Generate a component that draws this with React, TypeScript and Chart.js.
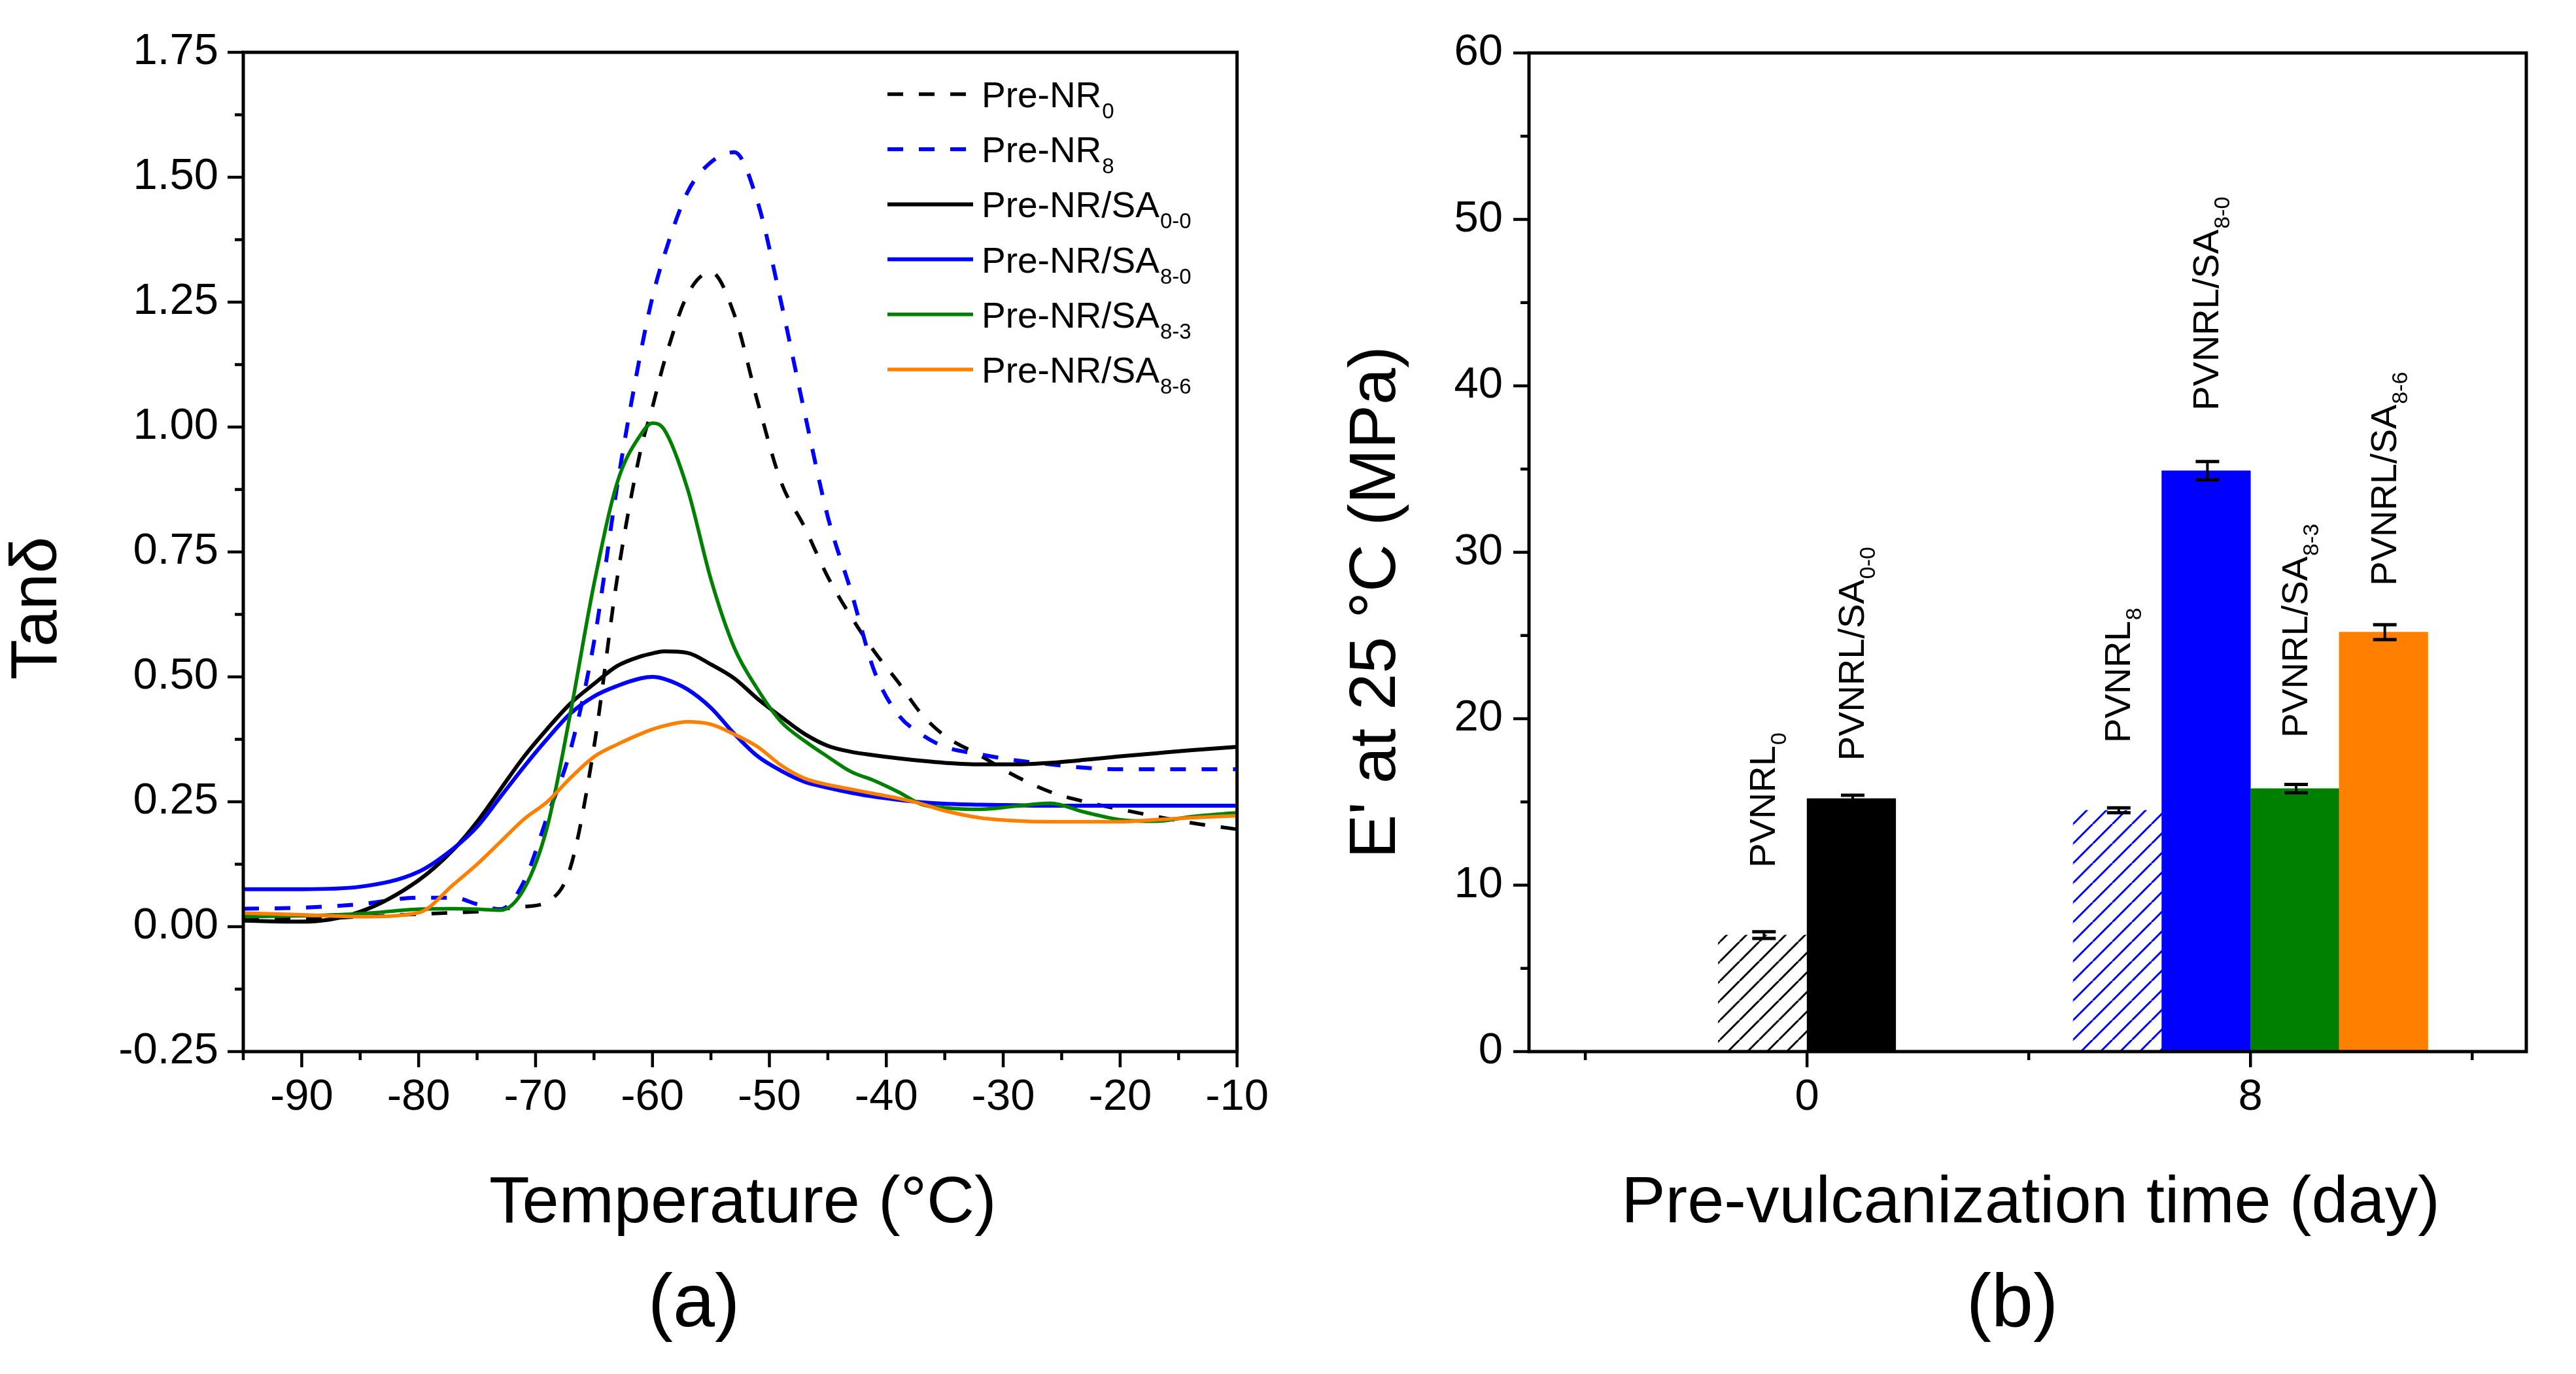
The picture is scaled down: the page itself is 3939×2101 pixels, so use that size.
import React, { useEffect, useRef } from 'react';
import { Chart, registerables } from 'chart.js';

Chart.register(...registerables);

const FONT = "'Liberation Sans', Arial, Helvetica, sans-serif";
const PAGE_W = 3939;
const PAGE_H = 2101;
const LEFT_W = 1970;
const RIGHT_W = PAGE_W - LEFT_W;

// ---------- (a) Tan delta vs temperature ----------
const TEMPS = [-95, -90, -85, -80, -77, -75, -73, -71, -69, -67, -65, -63, -61, -60, -59, -57, -55, -53, -51, -49, -47, -45, -43, -41, -39, -37, -35, -32, -29, -26, -23, -20, -17, -14, -10];
const TAN_PRE_NR0 = [0.015, 0.015, 0.02, 0.025, 0.028, 0.03, 0.035, 0.04, 0.05, 0.12, 0.36, 0.70, 0.955, 1.04, 1.13, 1.265, 1.31, 1.225, 1.05, 0.89, 0.80, 0.70, 0.62, 0.55, 0.49, 0.426, 0.382, 0.343, 0.302, 0.27, 0.25, 0.235, 0.221, 0.208, 0.195];
const TAN_PRE_NR8 = [0.036, 0.038, 0.045, 0.058, 0.058, 0.045, 0.035, 0.09, 0.22, 0.355, 0.57, 0.885, 1.15, 1.26, 1.343, 1.47, 1.53, 1.55, 1.45, 1.25, 1.03, 0.82, 0.67, 0.51, 0.425, 0.385, 0.36, 0.345, 0.333, 0.325, 0.318, 0.315, 0.315, 0.315, 0.315];
const TAN_SA_0_0 = [0.012, 0.01, 0.03, 0.093, 0.155, 0.21, 0.275, 0.34, 0.396, 0.447, 0.486, 0.522, 0.541, 0.547, 0.551, 0.548, 0.525, 0.497, 0.456, 0.42, 0.386, 0.362, 0.35, 0.343, 0.337, 0.332, 0.328, 0.325, 0.325, 0.328, 0.334, 0.341, 0.347, 0.353, 0.36];
const TAN_SA_8_0 = [0.075, 0.075, 0.08, 0.11, 0.157, 0.20, 0.26, 0.32, 0.376, 0.427, 0.461, 0.482, 0.497, 0.50, 0.496, 0.475, 0.438, 0.386, 0.341, 0.312, 0.29, 0.278, 0.268, 0.26, 0.254, 0.249, 0.246, 0.244, 0.243, 0.242, 0.242, 0.242, 0.242, 0.242, 0.242];
const TAN_SA_8_3 = [0.02, 0.022, 0.026, 0.035, 0.036, 0.035, 0.033, 0.075, 0.2, 0.43, 0.686, 0.89, 0.985, 1.008, 0.995, 0.876, 0.695, 0.558, 0.475, 0.41, 0.372, 0.34, 0.31, 0.292, 0.27, 0.245, 0.238, 0.235, 0.241, 0.247, 0.229, 0.214, 0.211, 0.22, 0.228];
const TAN_SA_8_6 = [0.027, 0.024, 0.02, 0.028, 0.085, 0.125, 0.17, 0.215, 0.25, 0.298, 0.34, 0.365, 0.386, 0.395, 0.402, 0.41, 0.405, 0.385, 0.36, 0.323, 0.297, 0.284, 0.275, 0.266, 0.257, 0.246, 0.232, 0.218, 0.212, 0.21, 0.21, 0.21, 0.214, 0.218, 0.222];

const SERIES_NAMES = ['Pre-NR', 'Pre-NR', 'Pre-NR/SA', 'Pre-NR/SA', 'Pre-NR/SA', 'Pre-NR/SA'];
const SERIES_SUBS = ['0', '8', '0-0', '8-0', '8-3', '8-6'];
const SERIES_VALUES = [TAN_PRE_NR0, TAN_PRE_NR8, TAN_SA_0_0, TAN_SA_8_0, TAN_SA_8_3, TAN_SA_8_6];

const TEMP_TICKS = [-95, -90, -85, -80, -75, -70, -65, -60, -55, -50, -45, -40, -35, -30, -25, -20, -15, -10];
const TAN_TICKS = [-0.25, -0.125, 0, 0.125, 0.25, 0.375, 0.5, 0.625, 0.75, 0.875, 1, 1.125, 1.25, 1.375, 1.5, 1.625, 1.75];

// ---------- (b) Modulus bars ----------
const DAYS = ['0', '8'];
const BAR_NAMES = ['PVNRL', 'PVNRL/SA', 'PVNRL', 'PVNRL/SA', 'PVNRL/SA', 'PVNRL/SA'];
const BAR_SUBS = ['0', '0-0', '8', '8-0', '8-3', '8-6'];
const BAR_DAY = [0, 0, 1, 1, 1, 1];
const MODULUS = [7.0, 15.2, 14.5, 34.9, 15.8, 25.2];
const MODULUS_ERR = [0.2, 0.2, 0.15, 0.55, 0.25, 0.45];
const DAY_TICKS = [-0.5, 0, 0.5, 1, 1.5];
const MODULUS_TICKS = [0, 5, 10, 15, 20, 25, 30, 35, 40, 45, 50, 55, 60];

// ---------- styles ----------
const SERIES_STYLE = [
  { color: '#000000', width: 5.5, dash: [24, 24] },
  { color: '#0000FF', width: 6, dash: [24, 24] },
  { color: '#000000', width: 6, dash: [] as number[] },
  { color: '#0000FF', width: 6, dash: [] as number[] },
  { color: '#008000', width: 5.5, dash: [] as number[] },
  { color: '#FF8000', width: 5.5, dash: [] as number[] },
];
const BAR_SLOT = 0.2;
const LABEL_GAP = [103, 58, 103, 92, 78, 71];

function hatch(color: string): CanvasPattern | string {
  const s = 30;
  const c = document.createElement('canvas');
  c.width = s;
  c.height = s;
  const g = c.getContext('2d');
  if (!g) return color;
  g.strokeStyle = color;
  g.lineWidth = 3;
  g.beginPath();
  for (const off of [-s, 0, s]) {
    g.moveTo(off, s);
    g.lineTo(off + s, 0);
  }
  g.stroke();
  const ctx = document.createElement('canvas').getContext('2d');
  return (ctx && ctx.createPattern(c, 'repeat')) || color;
}

function barCenter(i: number): number {
  const day = BAR_DAY[i];
  const members = BAR_DAY.map((d, k) => (d === day ? k : -1)).filter((k) => k >= 0);
  const slot = members.indexOf(i);
  return day + (slot - (members.length - 1) / 2) * BAR_SLOT;
}

function drawTicksAndFrame(chart: any, xMajor: (v: number) => boolean, yMajor: (v: number) => boolean) {
  const { ctx, chartArea: a } = chart;
  const xs = chart.scales.x;
  const ys = chart.scales.y;
  ctx.save();
  ctx.strokeStyle = '#000';
  ctx.lineCap = 'butt';
  ctx.lineWidth = 4.5;
  for (const t of xs.ticks) {
    const px = xs.getPixelForValue(t.value);
    const len = xMajor(t.value) ? 24 : 13;
    ctx.beginPath();
    ctx.moveTo(px, a.bottom);
    ctx.lineTo(px, a.bottom + len);
    ctx.stroke();
  }
  for (const t of ys.ticks) {
    const py = ys.getPixelForValue(t.value);
    const len = yMajor(t.value) ? 24 : 13;
    ctx.beginPath();
    ctx.moveTo(a.left, py);
    ctx.lineTo(a.left - len, py);
    ctx.stroke();
  }
  ctx.lineWidth = 5;
  ctx.strokeRect(a.left, a.top, a.right - a.left, a.bottom - a.top);
  ctx.restore();
}

function subText(ctx: CanvasRenderingContext2D, main: string, sub: string, x: number, y: number, size: number, subSize: number, subDrop: number) {
  ctx.font = `${size}px ${FONT}`;
  ctx.textAlign = 'left';
  ctx.fillText(main, x, y);
  const w = ctx.measureText(main).width;
  ctx.font = `${subSize}px ${FONT}`;
  ctx.fillText(sub, x + w + 1, y + subDrop);
}

const isMult = (v: number, step: number) => Math.abs(v / step - Math.round(v / step)) < 1e-6;

function buildLeft(canvas: HTMLCanvasElement) {
  const decor = {
    id: 'leftDecor',
    afterDraw(chart: any) {
      drawTicksAndFrame(chart, (v) => isMult(v, 10), (v) => isMult(v, 0.25));
      const ctx: CanvasRenderingContext2D = chart.ctx;
      const a = chart.chartArea;
      ctx.save();
      ctx.fillStyle = '#000';
      ctx.textBaseline = 'alphabetic';
      ctx.textAlign = 'center';
      ctx.font = `101px ${FONT}`;
      ctx.fillText('Temperature (°C)', (a.left + a.right) / 2 + 4, 1869);
      ctx.font = `115px ${FONT}`;
      ctx.fillText('(a)', 1061, 2028);
      ctx.save();
      ctx.translate(86, 930);
      ctx.rotate(-Math.PI / 2);
      ctx.font = `101px ${FONT}`;
      ctx.textAlign = 'center';
      ctx.fillText('Tanδ', 0, 0);
      ctx.restore();
      // legend
      chart.data.datasets.forEach((ds: any, i: number) => {
        const y = 144 + i * 84.2;
        ctx.save();
        ctx.strokeStyle = ds.borderColor;
        ctx.lineWidth = ds.borderWidth;
        ctx.setLineDash(ds.borderDash || []);
        ctx.beginPath();
        ctx.moveTo(1357, y);
        ctx.lineTo(1488, y);
        ctx.stroke();
        ctx.restore();
        ctx.fillStyle = '#000';
        subText(ctx, SERIES_NAMES[i], SERIES_SUBS[i], 1501, y + 20, 55, 33, 17);
      });
      ctx.restore();
    },
  };

  return new Chart(canvas, {
    type: 'line',
    data: {
      datasets: SERIES_VALUES.map((vals, i) => ({
        label: SERIES_NAMES[i] + SERIES_SUBS[i],
        data: TEMPS.map((t, j) => ({ x: t, y: vals[j] })),
        borderColor: SERIES_STYLE[i].color,
        borderWidth: SERIES_STYLE[i].width,
        borderDash: SERIES_STYLE[i].dash,
        pointRadius: 0,
        fill: false,
        cubicInterpolationMode: 'monotone',
        order: SERIES_VALUES.length - i,
      })),
    },
    options: {
      responsive: false,
      animation: false,
      layout: { padding: { top: 80, right: LEFT_W - 1902, left: 0, bottom: 0 } },
      plugins: { legend: { display: false }, tooltip: { enabled: false }, title: { display: false } },
      scales: {
        x: {
          type: 'linear',
          min: -95,
          max: -10,
          offset: false,
          grid: { display: false, drawTicks: false },
          border: { display: false },
          afterBuildTicks: (s: any) => {
            s.ticks = TEMP_TICKS.map((v) => ({ value: v }));
          },
          afterFit: (s: any) => {
            s.height = PAGE_H - 1608;
          },
          ticks: {
            autoSkip: false,
            maxRotation: 0,
            padding: 30,
            color: '#000',
            font: { family: FONT, size: 67 },
            callback: (v: any) => (isMult(Number(v), 10) ? String(v) : ''),
          },
        },
        y: {
          type: 'linear',
          min: -0.25,
          max: 1.75,
          grid: { display: false, drawTicks: false },
          border: { display: false },
          afterBuildTicks: (s: any) => {
            s.ticks = TAN_TICKS.map((v) => ({ value: v }));
          },
          afterFit: (s: any) => {
            s.width = 372;
          },
          ticks: {
            autoSkip: false,
            padding: 38,
            color: '#000',
            font: { family: FONT, size: 67 },
            callback: (v: any) => (isMult(Number(v), 0.25) ? Number(v).toFixed(2) : ''),
          },
        },
      },
    },
    plugins: [decor],
  } as any);
}

function buildRight(canvas: HTMLCanvasElement) {
  const fills = [hatch('#000000'), '#000000', hatch('#0000FF'), '#0000FF', '#008000', '#FF8000'];
  const decor = {
    id: 'rightDecor',
    afterDatasetsDraw(chart: any) {
      const ctx: CanvasRenderingContext2D = chart.ctx;
      const ys = chart.scales.y;
      const meta = chart.getDatasetMeta(0);
      ctx.save();
      ctx.strokeStyle = '#000';
      ctx.fillStyle = '#000';
      meta.data.forEach((el: any, i: number) => {
        const x = el.x + 2;
        const yHi = ys.getPixelForValue(MODULUS[i] + MODULUS_ERR[i]);
        const yLo = ys.getPixelForValue(MODULUS[i] - MODULUS_ERR[i]);
        ctx.lineWidth = 4;
        ctx.beginPath();
        ctx.moveTo(x, yHi);
        ctx.lineTo(x, yLo);
        ctx.stroke();
        ctx.lineWidth = 5;
        ctx.beginPath();
        ctx.moveTo(x - 18, yHi);
        ctx.lineTo(x + 18, yHi);
        ctx.moveTo(x - 18, yLo);
        ctx.lineTo(x + 18, yLo);
        ctx.stroke();
        // rotated label
        ctx.save();
        ctx.translate(el.x + 19, el.y - LABEL_GAP[i]);
        ctx.rotate(-Math.PI / 2);
        ctx.textBaseline = 'alphabetic';
        subText(ctx, BAR_NAMES[i], BAR_SUBS[i], 0, 0, 56, 34, 17);
        ctx.restore();
      });
      ctx.restore();
    },
    afterDraw(chart: any) {
      drawTicksAndFrame(chart, (v) => isMult(v, 1), (v) => isMult(v, 10));
      const ctx: CanvasRenderingContext2D = chart.ctx;
      ctx.save();
      ctx.fillStyle = '#000';
      ctx.textBaseline = 'alphabetic';
      ctx.textAlign = 'center';
      ctx.font = `101px ${FONT}`;
      ctx.fillText('Pre-vulcanization time (day)', 3105 - LEFT_W, 1869);
      ctx.font = `115px ${FONT}`;
      ctx.fillText('(b)', 3077 - LEFT_W, 2028);
      ctx.save();
      ctx.translate(2133 - LEFT_W, 921);
      ctx.rotate(-Math.PI / 2);
      ctx.font = `101px ${FONT}`;
      ctx.textAlign = 'center';
      ctx.fillText("E' at 25 °C (MPa)", 0, 0);
      ctx.restore();
      ctx.restore();
    },
  };

  return new Chart(canvas, {
    type: 'bar',
    data: {
      datasets: [
        {
          label: 'E',
          data: MODULUS.map((m, i) => ({ x: barCenter(i), y: m })),
          backgroundColor: fills,
          borderWidth: 0,
          barPercentage: 1,
          categoryPercentage: 1,
        },
      ],
    },
    options: {
      responsive: false,
      animation: false,
      layout: { padding: { top: 81, right: RIGHT_W - (3863 - LEFT_W), left: 0, bottom: 0 } },
      plugins: { legend: { display: false }, tooltip: { enabled: false }, title: { display: false } },
      scales: {
        x: {
          type: 'linear',
          min: -0.627,
          max: 1.622,
          offset: false,
          grid: { display: false, drawTicks: false, offset: false },
          border: { display: false },
          afterBuildTicks: (s: any) => {
            s.ticks = DAY_TICKS.map((v) => ({ value: v }));
          },
          afterFit: (s: any) => {
            s.height = PAGE_H - 1608;
          },
          ticks: {
            autoSkip: false,
            maxRotation: 0,
            padding: 30,
            color: '#000',
            font: { family: FONT, size: 67 },
            callback: (v: any) => (isMult(Number(v), 1) ? DAYS[Math.round(Number(v))] ?? '' : ''),
          },
        },
        y: {
          type: 'linear',
          min: 0,
          max: 60,
          grid: { display: false, drawTicks: false },
          border: { display: false },
          afterBuildTicks: (s: any) => {
            s.ticks = MODULUS_TICKS.map((v) => ({ value: v }));
          },
          afterFit: (s: any) => {
            s.width = 2338 - LEFT_W;
          },
          ticks: {
            autoSkip: false,
            padding: 40,
            color: '#000',
            font: { family: FONT, size: 67 },
            callback: (v: any) => (isMult(Number(v), 10) ? String(v) : ''),
          },
        },
      },
    },
    plugins: [decor],
  } as any);
}

export default function App() {
  const leftRef = useRef<HTMLCanvasElement>(null);
  const rightRef = useRef<HTMLCanvasElement>(null);

  useEffect(() => {
    document.body.style.margin = '0';
    document.body.style.overflow = 'hidden';
    const l = leftRef.current ? buildLeft(leftRef.current) : null;
    const r = rightRef.current ? buildRight(rightRef.current) : null;
    return () => {
      if (l) l.destroy();
      if (r) r.destroy();
    };
  }, []);

  return (
    <div style={{ position: 'absolute', left: 0, top: 0, width: PAGE_W, height: PAGE_H, background: '#ffffff', overflow: 'hidden' }}>
      <canvas ref={leftRef} width={LEFT_W} height={PAGE_H} style={{ position: 'absolute', left: 0, top: 0, width: LEFT_W, height: PAGE_H }} />
      <canvas ref={rightRef} width={RIGHT_W} height={PAGE_H} style={{ position: 'absolute', left: LEFT_W, top: 0, width: RIGHT_W, height: PAGE_H }} />
    </div>
  );
}
